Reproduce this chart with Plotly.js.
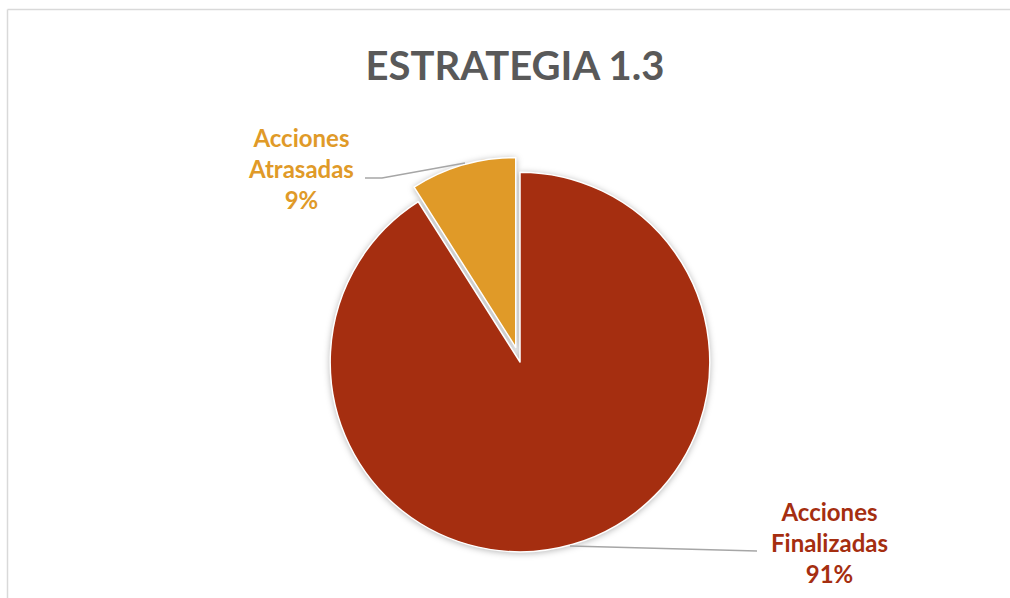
<!DOCTYPE html>
<html>
<head>
<meta charset="utf-8">
<script src="https://cdn.plot.ly/plotly-3.0.1.min.js"></script>
<style>
  html, body { margin: 0; padding: 0; background: #ffffff; }
  #chart { width: 1010px; height: 598px; }
  .pielayer .trace { filter: drop-shadow(0px 1px 3px rgba(0,0,0,0.28)); }
</style>
</head>
<body>
<div id="chart"></div>
<script>
const categories = ["Acciones Finalizadas", "Acciones Atrasadas"];
const values = [91, 9];
const sliceColors = ["#A52E10", "#E09A28"];
const chartTitle = "ESTRATEGIA 1.3";

const W = 1010, H = 598;
const px = x => x / W;
const py = y => 1 - y / H;

const total = values.reduce((a, b) => a + b, 0);
const labelText = i => categories[i].replace(" ", "<br>") + "<br>" + Math.round(values[i] / total * 100) + "%";

// label placement (layout only)
const labelPos = [
  { x: 829, y: 542 },
  { x: 301, y: 168 }
];

const trace = {
  type: "pie",
  labels: categories,
  values: values,
  sort: false,
  direction: "clockwise",
  rotation: 0,
  pull: [0, 0.08],
  marker: { colors: sliceColors, line: { color: "#ffffff", width: 1.5 } },
  textinfo: "none",
  hoverinfo: "label+percent",
  showlegend: false,
  domain: { x: [px(315), px(725)], y: [py(567), py(157)] }
};

const annotations = categories.map((c, i) => ({
  xref: "paper", yref: "paper",
  x: px(labelPos[i].x), y: py(labelPos[i].y),
  xanchor: "center", yanchor: "middle",
  text: "<b>" + labelText(i) + "</b>",
  showarrow: false,
  align: "center",
  font: { family: "Lato, 'Open Sans', sans-serif", size: 24, color: sliceColors[i] }
}));

const leader = pts => "M " + pts.map(p => px(p[0]) + "," + py(p[1])).join(" L ");

const layout = {
  width: W, height: H,
  margin: { l: 0, r: 0, t: 0, b: 0 },
  paper_bgcolor: "#ffffff",
  title: {
    text: "<b>" + chartTitle + "</b>",
    x: px(515), xanchor: "center",
    y: py(66), yanchor: "middle",
    xref: "paper", yref: "paper",
    font: { family: "Lato, 'Open Sans', sans-serif", size: 40, color: "#595959" }
  },
  annotations: annotations,
  shapes: [
    { type: "line", xref: "paper", yref: "paper",
      x0: px(7.5), x1: 1, y0: py(9.5), y1: py(9.5),
      line: { color: "#D9D9D9", width: 1.5 }, layer: "below" },
    { type: "line", xref: "paper", yref: "paper",
      x0: px(7.5), x1: px(7.5), y0: 0, y1: py(9.5),
      line: { color: "#D9D9D9", width: 1.5 }, layer: "below" },
    { type: "path", xref: "paper", yref: "paper",
      path: leader([[365, 178], [382, 178], [465, 163]]),
      line: { color: "#A6A6A6", width: 1.5 } },
    { type: "path", xref: "paper", yref: "paper",
      path: leader([[570, 546], [757, 551]]),
      line: { color: "#A6A6A6", width: 1.5 } }
  ]
};

Plotly.newPlot("chart", [trace], layout, { displayModeBar: false, staticPlot: true });
</script>
</body>
</html>
